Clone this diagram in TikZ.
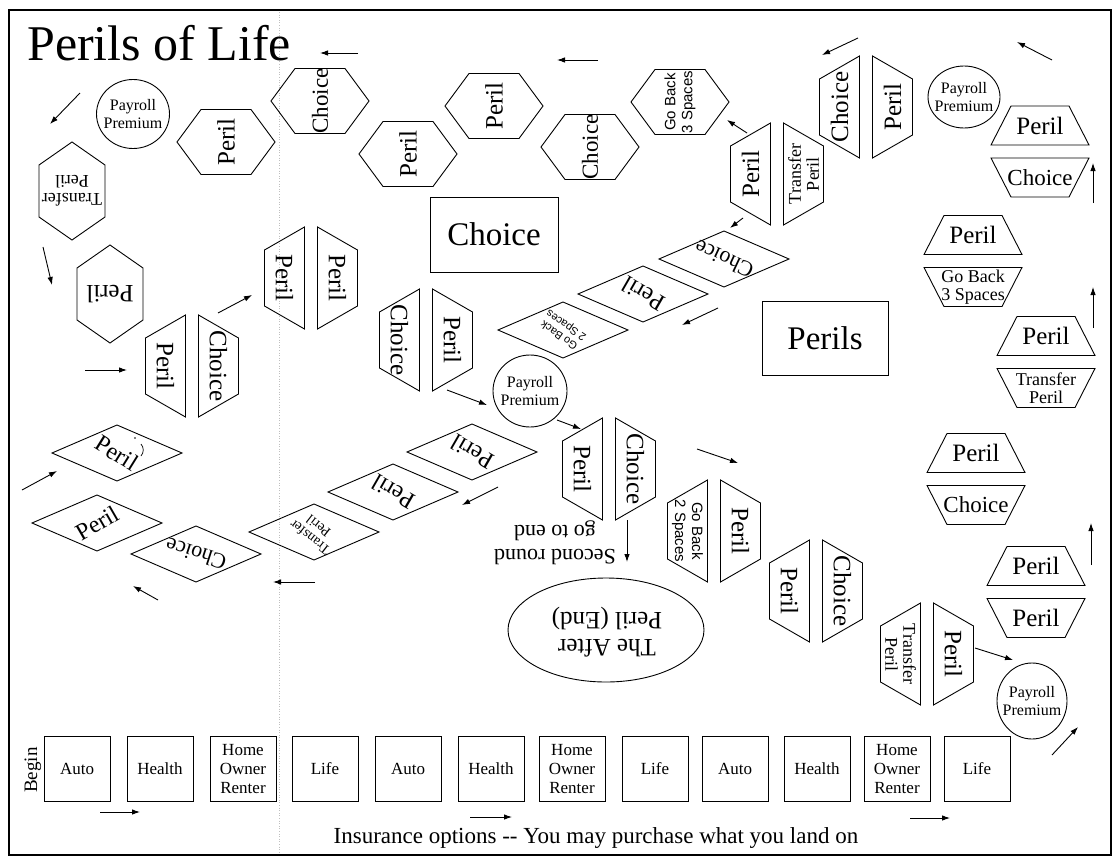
\documentclass[tikz,border=0pt]{standalone}
\usepackage{fontspec}
\setmainfont{Liberation Serif}
\newfontfamily\sansf{Liberation Sans}
\usetikzlibrary{arrows.meta}
\newcommand\sz[2]{\fontsize{#1}{#2}\selectfont}
\tikzset{
  shp/.style={draw=black, line width=0.9pt, line join=miter},
  txt/.style={inner sep=0pt, align=center},
  bigf/.style={font=\sz{25}{27}},
  chf/.style={font=\sz{23}{25}},
  midf/.style={font=\sz{18}{18}},
  smf/.style={font=\sz{14}{14}},
  sanf/.style={font=\sansf\sz{15}{17}},
  sanfs/.style={font=\sansf\sz{11}{12}},
  arr/.style={line width=0.9pt, -{Latex[length=8pt,width=5.5pt]}},
  sqbox/.style={draw=black, line width=0.9pt, minimum width=66pt, minimum height=65pt, inner sep=0pt, align=center, font=\sz{17}{19}},
  pay/.style={inner sep=0pt, align=center, font=\sz{16}{18}},
}
% flat hexagon (pointed left/right)
\newcommand\fhex[5]{%
  \draw[shp,shift={(#2,#3)}] (-49,0) -- (-25,-32.5) -- (25,-32.5) -- (49,0) -- (25,32.5) -- (-25,32.5) -- cycle;
  \node[txt,rotate=90,#4] (#1) at (#2,#3) {#5};}
% pointed-top hexagon
\newcommand\vhex[6]{%
  \draw[shp,shift={(#2,#3)}] (0,-49) -- (33,-26) -- (33,26) -- (0,49) -- (-33,26) -- (-33,-26) -- cycle;
  \node[txt,rotate=#4,#5] (#1) at (#2,#3) {#6};}
% pointed-top hexagon split vertically
\newcommand\vpair[8]{%
  \draw[shp,shift={(#2,#3)}] (-6.5,-51) -- (-6.5,51) -- (-46.5,28) -- (-46.5,-28) -- cycle
     (6.5,-51) -- (46.5,-28) -- (46.5,28) -- (6.5,51) -- cycle;
  \path[shift={(#2,#3)}] node[txt,rotate=#4,#5] (#1a) at (-26.5,0) {#6}
                         node[txt,rotate=#4,#7] (#1b) at (26.5,0) {#8};}
% flat hexagon split horizontally
\newcommand\hpair[7]{%
  \draw[shp,shift={(#2,#3)}] (-29,-45.5) -- (29,-45.5) -- (49,-6.5) -- (-49,-6.5) -- cycle
     (-49,6.5) -- (49,6.5) -- (29,45.5) -- (-29,45.5) -- cycle;
  \path[shift={(#2,#3)}] node[txt,#4] (#1a) at (0,-26) {#5}
                         node[txt,#6] (#1b) at (0,26) {#7};}
% diamond tile
\newcommand\dia[6]{%
  \draw[shp,shift={(#2,#3)}] (-65,0) -- (0,-28) -- (65,0) -- (0,28) -- cycle;
  \node[txt,rotate=#4,#5] (#1) at (#2,#3) {#6};}
% payroll circle
\newcommand\payroll[5]{%
  \draw[shp] (#2,#3) ellipse [x radius=#4pt, y radius=#5pt];
  \node[pay] (#1) at (#2,#3) {Payroll\\Premium};}
% free arrow
\newcommand\arw[3]{%
  \coordinate (#1s) at (#2); \coordinate (#1e) at (#3);
  \draw[arr] (#1s) -- (#1e);}

\begin{document}
\begin{tikzpicture}[x=1pt,y=-1pt]
\useasboundingbox (0,0) rectangle (1114,862);
\draw[line width=1.1pt] (9,10) rectangle (1111,855);
\draw[black!25, dotted, line width=0.6pt] (279,12) -- (279,853);

\node[txt, font=\sz{50}{55}, anchor=base west] (title) at (27,60) {Perils of Life};

% top row hexagons
\fhex{hc1}{320}{101}{chf}{Choice}
\fhex{hp1}{226}{142}{bigf}{Peril}
\fhex{hp2}{408}{154}{bigf}{Peril}
\fhex{hp3}{494}{106}{bigf}{Peril}
\fhex{hc2}{590}{147}{chf}{Choice}
\fhex{hg}{680}{102}{sanf}{Go Back\\3 Spaces}

% left column hexagons
\vhex{ht}{72}{191}{180}{midf}{Transfer\\Peril}
\vhex{hpl}{110}{294}{180}{bigf}{Peril}

% payroll circles
\payroll{p1}{133}{114}{36.5}{34.5}
\payroll{p2}{964}{97}{36}{31}
\payroll{p3}{530}{391}{37}{36}
\payroll{p4}{1032}{701}{35}{38}

% vertical split pairs
\vpair{vp1}{311}{278}{-90}{bigf}{Peril}{bigf}{Peril}
\vpair{vp2}{192}{366}{-90}{bigf}{Peril}{bigf}{Choice}
\vpair{vp3}{426}{340}{-90}{bigf}{Choice}{bigf}{Peril}
\vpair{vp4}{609}{469}{-90}{bigf}{Peril}{bigf}{Choice}
\vpair{vp5}{714}{531}{-90}{sanf}{Go Back\\2 Spaces}{bigf}{Peril}
\vpair{vp6}{816}{591}{-90}{bigf}{Peril}{bigf}{Choice}
\vpair{vp7}{927}{654}{-90}{midf}{Transfer\\Peril}{bigf}{Peril}
\vpair{vp8}{777}{174}{90}{bigf}{Peril}{midf}{Transfer\\Peril}
\vpair{vp9}{866}{107}{90}{bigf}{Choice}{bigf}{Peril}

% horizontal split pairs (right column)
\hpair{hq1}{1040}{151.5}{bigf}{Peril}{chf}{Choice}
\hpair{hq2}{973}{261}{bigf}{Peril}{midf}{Go Back\\3 Spaces}
\hpair{hq3}{1046}{362}{bigf}{Peril}{midf}{Transfer\\Peril}
\hpair{hq4}{976}{479}{bigf}{Peril}{chf}{Choice}
\hpair{hq5}{1036}{592}{bigf}{Peril}{bigf}{Peril}

% diamonds
\dia{d1}{724}{259}{155}{font=\sz{22}{24}}{Choice}
\dia{d2}{643}{294}{150}{font=\sz{24}{26}}{Peril}
\dia{d3}{563}{330}{145}{sanfs}{Go Back\\2 Spaces}
\dia{d4}{472}{452}{150}{font=\sz{24}{26}}{Peril}
\dia{d5}{393}{492}{150}{font=\sz{24}{26}}{Peril}
\dia{d6}{314}{532}{142}{smf}{Transfer\\Peril}
\dia{d7}{196}{554}{162}{font=\sz{22}{24}}{Choice}
\dia{d8}{97}{523}{30}{font=\sz{24}{26}}{Peril}
\dia{d9}{117}{453}{-32}{font=\sz{24}{26}}{Peril}
\draw[line width=0.7pt] (141,444) to[bend left=40] (141,456);
\fill (135,438) circle[radius=0.9pt];

% centre boxes
\node[draw=black, line width=0.9pt, minimum width=128pt, minimum height=75pt, inner sep=0pt, font=\sz{33}{36}] (choicebox) at (494,234.5) {Choice};
\node[draw=black, line width=0.9pt, minimum width=126pt, minimum height=74pt, inner sep=0pt, font=\sz{33}{36}] (perilsbox) at (825,338) {Perils};

% end ellipse and second-round note
\draw[shp] (606,630) ellipse [x radius=98pt, y radius=52pt];
\node[txt, rotate=180, font=\sz{25}{27}] (endtxt) at (607,632) {The After\\Peril (End)};
\node[txt, rotate=180, font=\sz{22}{24}] (second) at (555,543) {Second round\\go to end};

% bottom row of insurance boxes
\node[txt, rotate=90, font=\sz{19}{20}] (begin) at (33,770) {Begin};
\node[sqbox] (b1) at (77,769) {Auto};
\node[sqbox] (b2) at (160,769) {Health};
\node[sqbox] (b3) at (243,769) {Home\\Owner\\Renter};
\node[sqbox] (b4) at (325,769) {Life};
\node[sqbox] (b5) at (408,769) {Auto};
\node[sqbox] (b6) at (491,769) {Health};
\node[sqbox] (b7) at (572,769) {Home\\Owner\\Renter};
\node[sqbox] (b8) at (655,769) {Life};
\node[sqbox] (b9) at (735,769) {Auto};
\node[sqbox] (b10) at (817,769) {Health};
\node[sqbox] (b11) at (897,769) {Home\\Owner\\Renter};
\node[sqbox] (b12) at (977,769) {Life};
\node[txt, font=\sz{23}{25}, anchor=base] (insure) at (596,843) {Insurance options -{}- You may purchase what you land on};

% arrows
\arw{a1}{358,53}{320,53}
\arw{a2}{598,60}{557,60}
\arw{a3}{80,93}{50,124}
\arw{a4}{43,247}{52,285}
\arw{a5}{85,370}{127,370}
\arw{a6}{218,313}{252,295}
\arw{a7}{22,490}{57,471}
\arw{a8}{158,600}{133,586}
\arw{a9}{315,582}{273,582}
\arw{a10}{498,487}{462,505}
\arw{a11}{447,390}{487,405}
\arw{a12}{557,420}{581,429}
\arw{a13}{627,520}{627,562}
\arw{a14}{697,449}{738,463}
\arw{a15}{747,133}{727,120}
\arw{a16}{743,218}{730,228}
\arw{a17}{718,308}{682,325}
\arw{a18}{858,38}{822,55}
\arw{a19}{1052,60}{1017,42}
\arw{a20}{1093,203}{1093,163}
\arw{a21}{1093,328}{1093,287}
\arw{a22}{1091,565}{1091,523}
\arw{a23}{975,648}{1013,660}
\arw{a24}{1052,755}{1078,727}
\arw{a25}{100,812}{140,812}
\arw{a26}{470,817}{512,817}
\arw{a27}{910,818}{950,818}
\end{tikzpicture}
\end{document}
